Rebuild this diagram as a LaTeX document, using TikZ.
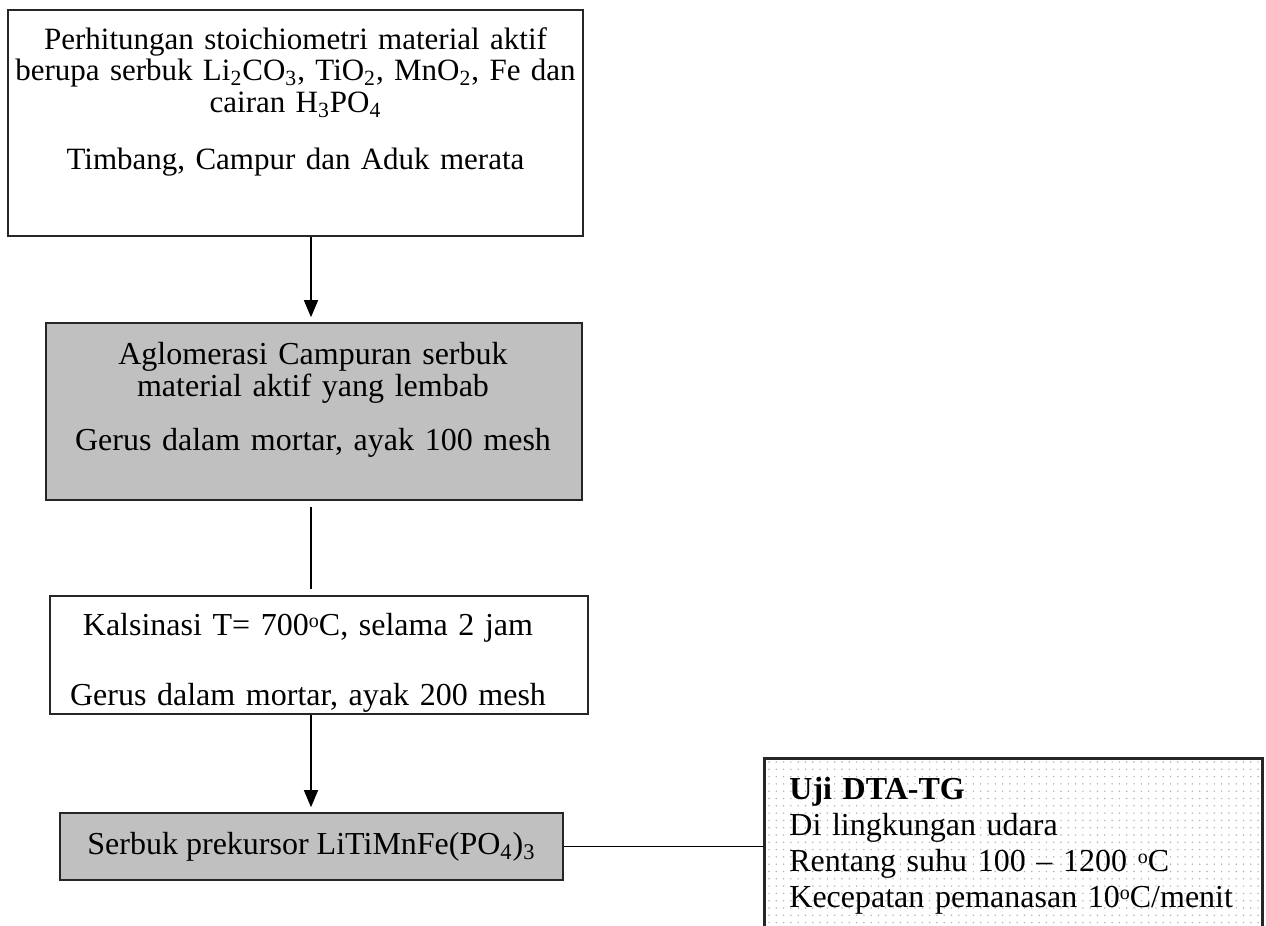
\documentclass[tikz,border=0pt]{standalone}
\usepackage{fontspec}
\setmainfont{Liberation Serif}
\usetikzlibrary{arrows.meta,calc}
\definecolor{boxgray}{RGB}{192,192,192}
\definecolor{dotgray}{RGB}{178,178,178}
% small raised "o" used as the degree mark
\newcommand{\degmark}{\raisebox{0.5ex}{\fontsize{10}{10}\selectfont o}}
\begin{document}
\begin{tikzpicture}[x=0.5pt,y=-0.5pt,
  box/.style={draw=black!85,line width=0.8pt,rectangle,inner sep=0pt},
  shaded/.style={box,fill=boxgray},
  txt/.style={inner sep=0pt,font=\fontsize{16}{16.25}\selectfont,align=center,text width=340pt},
  notetxt/.style={inner sep=0pt,font=\fontsize{16}{18}\selectfont,align=left,text width=240pt},
  arr/.style={line width=0.7pt,shorten >=2.5pt,-{Triangle[length=8.5pt,width=7pt]}},
  link/.style={line width=0.7pt}]
\useasboundingbox (0,0) rectangle (1266,926);
\clip (0,0) rectangle (1266,926);

% process boxes
\node[box,minimum width=287.5pt,minimum height=113pt] (b1) at (295.5,123) {};
\node[shaded,minimum width=268pt,minimum height=88.5pt] (b2) at (314,411.5) {};
\node[box,minimum width=269pt,minimum height=59pt] (b3) at (319,655) {};
\node[shaded,minimum width=251.5pt,minimum height=33.5pt,
      font=\fontsize{16}{16.25}\selectfont] (b4) at (311.5,846.5)
  {Serbuk prekursor LiTiMnFe(PO\textsubscript{4})\textsubscript{3}};
\node[box,fill=white,minimum width=248.5pt,minimum height=93pt] (b5) at (1013.5,852) {};

% dotted fill of the test box
\begin{scope}
  \clip (b5.north west) rectangle (b5.south east);
  \foreach \i in {0,...,68}
    \foreach \j in {0,...,25}
      \fill[dotgray] (769+\i*7.3,762+\j*7.3) circle (0.42pt);
\end{scope}
\draw[draw=black!85,line width=0.8pt] (b5.north west) rectangle (b5.south east);

% box texts
\node[txt,font=\fontsize{15.5}{16}\selectfont,anchor=base] (t1) at (295.5,49)
  {Perhitungan stoichiometri material aktif\\
   berupa serbuk Li\textsubscript{2}CO\textsubscript{3}, TiO\textsubscript{2}, MnO\textsubscript{2}, Fe dan\\
   cairan H\textsubscript{3}PO\textsubscript{4}\\[12pt]
   Timbang, Campur dan Aduk merata};
\node[txt,anchor=base] (t2) at (313,364)
  {Aglomerasi Campuran serbuk\\
   material aktif yang lembab\\[11pt]
   Gerus dalam mortar, ayak 100 mesh};
\node[txt,anchor=base] (t3) at (308,635)
  {Kalsinasi T= 700\degmark C, selama 2 jam\\[18.75pt]
   Gerus dalam mortar, ayak 200 mesh};
\node[notetxt,anchor=base west] (t5) at (789,799)
  {\textbf{Uji DTA-TG}\\
   Di lingkungan udara\\
   Rentang suhu 100 – 1200 \degmark C\\
   Kecepatan pemanasan 10\degmark C/menit};

% connectors
\coordinate (ax) at (311,0);
\draw[arr] (b1.south -| ax) -- (b2.north -| ax);
\draw[link] ($(b2.south -| ax)+(0,6)$) -- ($(b3.north -| ax)+(0,-6)$);
\draw[arr] (b3.south -| ax) -- (b4.north -| ax);
\draw[link] (b4.east) -- (b4.east -| b5.west);
\end{tikzpicture}
\end{document}
